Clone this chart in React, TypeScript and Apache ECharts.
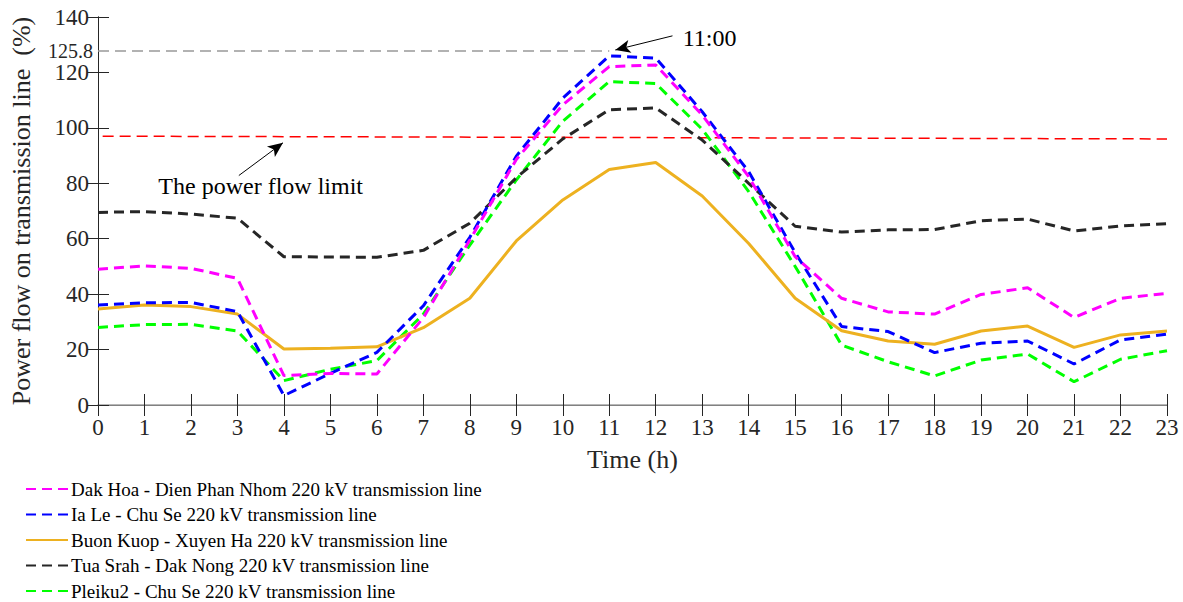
import React, { useEffect, useRef } from "react";
import * as echarts from "echarts";

const hours = [0, 1, 2, 3, 4, 5, 6, 7, 8, 9, 10, 11, 12, 13, 14, 15, 16, 17, 18, 19, 20, 21, 22, 23];
const yTicks = [0, 20, 40, 60, 80, 100, 120, 140];

const seriesNames = [
  "Dak Hoa - Dien Phan Nhom 220 kV transmission line",
  "Ia Le - Chu Se 220 kV transmission line",
  "Buon Kuop - Xuyen Ha 220 kV transmission line",
  "Tua Srah - Dak Nong 220 kV transmission line",
  "Pleiku2 - Chu Se 220 kV transmission line",
];

const dakHoa = [49.0, 50.2, 49.3, 45.7, 10.6, 11.4, 11.2, 31.5, 59.5, 88.6, 108.3, 122.1, 122.7, 104.6, 82.4, 53.5, 38.5, 33.6, 32.8, 39.9, 42.3, 31.6, 38.5, 40.3];
const iaLe = [36.1, 36.9, 37.0, 33.7, 3.4, 11.4, 19.0, 35.8, 60.5, 89.8, 110.7, 126.0, 125.2, 105.8, 84.2, 55.0, 28.3, 26.5, 18.9, 22.3, 23.1, 14.8, 23.5, 25.6];
const buonKuop = [34.6, 36.1, 35.5, 32.8, 20.2, 20.5, 21.0, 27.9, 38.5, 59.2, 74.0, 85.0, 87.5, 75.4, 58.3, 38.5, 26.8, 23.1, 21.9, 26.7, 28.5, 20.8, 25.3, 26.7];
const tuaSrah = [69.5, 69.8, 68.9, 67.4, 53.5, 53.4, 53.3, 55.8, 65.6, 82.0, 96.0, 106.5, 107.2, 95.6, 80.0, 64.5, 62.4, 63.2, 63.3, 66.5, 67.1, 62.8, 64.6, 65.4];
const pleiku2 = [28.0, 29.0, 29.1, 26.7, 8.8, 12.9, 16.0, 32.8, 57.7, 81.2, 102.4, 116.7, 116.0, 99.5, 77.0, 50.0, 21.6, 15.6, 10.5, 16.2, 18.4, 8.4, 16.5, 19.6];

const seriesValues = [dakHoa, iaLe, buonKuop, tuaSrah, pleiku2];
const seriesColors = ["#ff00ff", "#0000ff", "#edb120", "#262626", "#00ff00"];
const seriesDashed = [true, true, false, true, true];

// Annotations
const limitStart = [0.1, 97.0];
const limitEnd = [23, 96.0];
const peakLabel = "125.8";
const peakLevel = 127.7;
const peakHour = 11;
const peakText = "11:00";
const peakTextPos = [13.16, 132.6];
const peakArrowFrom = [12.36, 133.2];
const peakArrowTo = [11.13, 128.1];
const limitText = "The power flow limit";
const limitTextPos = [3.5, 79];
const limitArrowFrom = [3.03, 82.8];
const limitArrowTo = [3.98, 94.6];

const FONT = "'Liberation Serif', 'Times New Roman', serif";
const TXT = "#262626";

export default function App() {
  const ref = useRef<HTMLDivElement>(null);
  useEffect(() => {
    if (!ref.current) return;
    const chart = echarts.init(ref.current, undefined, { renderer: "svg" });

    const lines = seriesNames.map((name, k) => ({
      name,
      type: "line",
      xAxisIndex: 0,
      yAxisIndex: 0,
      symbol: "none",
      data: hours.map((h, i) => [h, seriesValues[k][i]]),
      lineStyle: {
        color: seriesColors[k],
        width: 3,
        type: seriesDashed[k] ? [10, 6] : "solid",
      },
      itemStyle: { color: seriesColors[k] },
      z: 10 - k,
    }));

    const annotations = {
      name: "annotations",
      type: "line",
      xAxisIndex: 0,
      yAxisIndex: 0,
      data: [],
      symbol: "none",
      markLine: {
        silent: true,
        animation: false,
        data: [
          [
            { coord: limitStart, symbol: "none", lineStyle: { color: "#ff0000", width: 1.5, type: [11, 6] }, label: { show: false } },
            { coord: limitEnd, symbol: "none" },
          ],
          [
            {
              coord: [0, peakLevel],
              symbol: "none",
              lineStyle: { color: "#999999", width: 1.5, type: [11, 6] },
              label: { show: true, position: "start", formatter: peakLabel, color: TXT, fontSize: 20, fontFamily: FONT, distance: 5 },
            },
            { coord: [peakHour, peakLevel], symbol: "none" },
          ],
          [
            { coord: peakArrowFrom, symbol: "none", lineStyle: { color: "#000", width: 1, type: "solid" }, label: { show: false } },
            { coord: peakArrowTo, symbol: "arrow", symbolSize: [10, 15] },
          ],
          [
            { coord: limitArrowFrom, symbol: "none", lineStyle: { color: "#000", width: 1, type: "solid" }, label: { show: false } },
            { coord: limitArrowTo, symbol: "arrow", symbolSize: [10, 15] },
          ],
        ],
      },
      markPoint: {
        silent: true,
        symbol: "circle",
        symbolSize: 0,
        data: [
          { coord: peakTextPos, label: { show: true, formatter: peakText, color: "#000", fontSize: 24, fontFamily: FONT, position: "inside" } },
          { coord: limitTextPos, label: { show: true, formatter: limitText, color: "#000", fontSize: 24, fontFamily: FONT, position: "inside" } },
        ],
      },
    };

    const axisLabelStyle = { color: TXT, fontSize: 23, fontFamily: FONT };

    chart.setOption({
      animation: false,
      backgroundColor: "#ffffff",
      textStyle: { fontFamily: FONT },
      grid: { left: 97, right: 16, top: 17, bottom: 197, containLabel: false },
      legend: {
        data: seriesNames,
        orient: "vertical",
        left: 25,
        top: 479,
        height: 200,
        padding: 0,
        itemWidth: 42,
        itemHeight: 14,
        itemGap: 5.5,
        itemStyle: { opacity: 0 },
        textStyle: { color: "#000", fontSize: 19, fontFamily: FONT, padding: [0, 0, 0, -2], lineHeight: 20 },
        selectedMode: false,
      },
      xAxis: [
        {
          type: "value",
          min: 0,
          max: 23,
          interval: 1,
          position: "bottom",
          name: "Time (h)",
          nameLocation: "middle",
          nameGap: 41,
          nameTextStyle: { color: TXT, fontSize: 26, fontFamily: FONT },
          axisLine: { show: true, lineStyle: { color: TXT, width: 1 } },
          axisTick: { show: true, inside: true, length: 11, lineStyle: { color: TXT } },
          axisLabel: { ...axisLabelStyle, margin: 11, formatter: (v: number) => String(v) },
          splitLine: { show: false },
        },
        {
          type: "value",
          min: 0,
          max: 23,
          interval: 1,
          position: "top",
          axisLine: { show: true, lineStyle: { color: "#a0a0a0", width: 1.5 } },
          axisTick: { show: true, inside: true, length: 11, lineStyle: { color: TXT } },
          axisLabel: { show: false },
          splitLine: { show: false },
        },
      ],
      yAxis: [
        {
          type: "value",
          min: 0,
          max: 140,
          interval: 20,
          position: "left",
          name: "Power flow on transmission line  (%)",
          nameLocation: "middle",
          nameGap: 64,
          nameTextStyle: { color: TXT, fontSize: 26, fontFamily: FONT },
          axisLine: { show: true, lineStyle: { color: TXT, width: 1 } },
          axisTick: { show: true, inside: true, length: 11, lineStyle: { color: TXT } },
          axisLabel: { ...axisLabelStyle, margin: 9, formatter: (v: number) => (yTicks.includes(v) ? String(v) : "") },
          splitLine: { show: false },
        },
        {
          type: "value",
          min: 0,
          max: 140,
          interval: 20,
          position: "right",
          axisLine: { show: true, lineStyle: { color: TXT, width: 1 } },
          axisTick: { show: true, inside: true, length: 11, lineStyle: { color: TXT } },
          axisLabel: { show: false },
          splitLine: { show: false },
        },
      ],
      series: [...lines, annotations],
    });

    return () => chart.dispose();
  }, []);

  return <div ref={ref} style={{ width: 1183, height: 602, position: "absolute", left: 0, top: 0 }} />;
}
